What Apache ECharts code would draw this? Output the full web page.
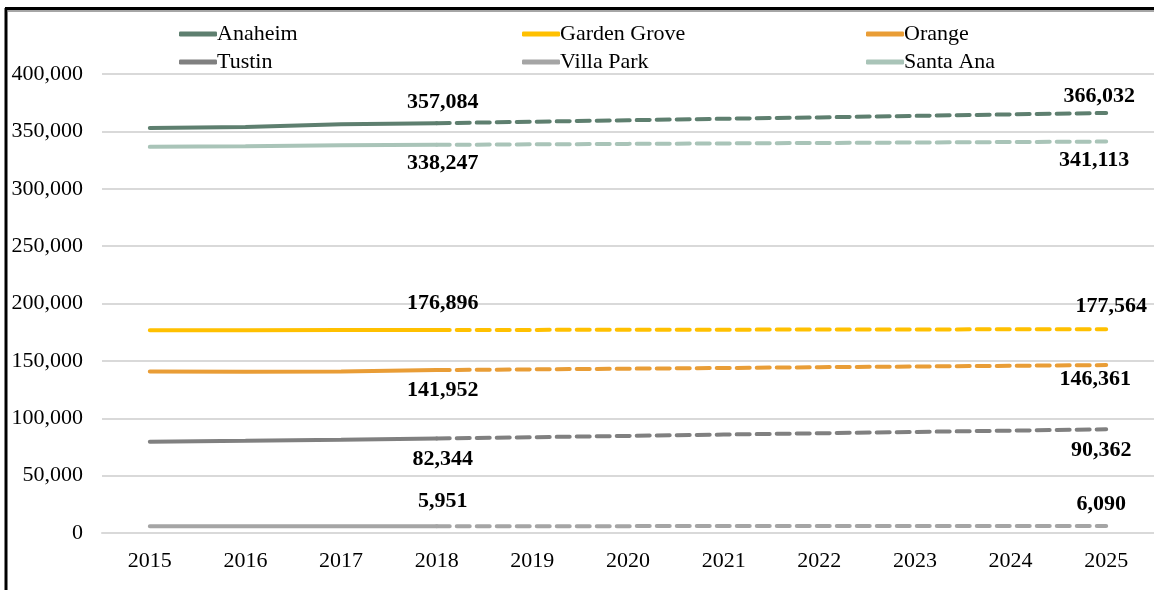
<!DOCTYPE html>
<html>
<head>
<meta charset="utf-8">
<script src="https://cdn.jsdelivr.net/npm/echarts@6/dist/echarts.min.js"></script>
<style>
html, body { margin: 0; padding: 0; background: #fff; }
#chart { width: 1154px; height: 590px; }
</style>
</head>
<body>
<div id="chart"></div>
<script>
// years on the x axis
var years = ['2015', '2016', '2017', '2018', '2019', '2020', '2021', '2022', '2023', '2024', '2025'];
var cities = ['Anaheim', 'Garden Grove', 'Orange', 'Tustin', 'Villa Park', 'Santa Ana'];

// estimates 2015-2018 (solid)
var anaheimEst = [353000, 353800, 356300, 357084];
var gardenGroveEst = [176600, 176700, 176800, 176896];
var orangeEst = [140700, 140600, 140800, 141952];
var tustinEst = [79500, 80300, 81300, 82344];
var villaParkEst = [5800, 5850, 5900, 5951];
var santaAnaEst = [336500, 337000, 337800, 338247];

// forecast 2018-2025 (dashed)
var anaheimFc = [357084, 358400, 359700, 361000, 362200, 363500, 364800, 366032];
var gardenGroveFc = [176896, 177000, 177100, 177200, 177300, 177400, 177500, 177564];
var orangeFc = [141952, 142600, 143200, 143800, 144500, 145100, 145700, 146361];
var tustinFc = [82344, 83500, 84600, 85800, 86900, 88100, 89200, 90362];
var villaParkFc = [5951, 5970, 5990, 6010, 6030, 6050, 6070, 6090];
var santaAnaFc = [338247, 338700, 339100, 339500, 339900, 340300, 340700, 341113];

var estData = [anaheimEst, gardenGroveEst, orangeEst, tustinEst, villaParkEst, santaAnaEst];
var fcData = [anaheimFc, gardenGroveFc, orangeFc, tustinFc, villaParkFc, santaAnaFc];

var colors = ['#5E7F6F', '#FFC000', '#E99D36', '#808080', '#A5A5A5', '#A9C4B8'];
// label placement: [pos 2018, dist 2018, offset 2018, pos 2025, dist 2025, offset 2025]
var labelCfg = [
    ['top', 10, [6, 0], 'top', 6, [-7, 0]],
    ['top', 16, [6, 0], 'top', 12, [5, 0]],
    ['bottom', 9, [6, 0], 'bottom', 3, [-11, 0]],
    ['bottom', 10, [6, 0], 'bottom', 10, [-5, 0]],
    ['top', 14, [6, 0], 'top', 11, [-5, 0]],
    ['bottom', 7, [6, 0], 'bottom', 8, [-12, 0]]
];

var font = 'Liberation Serif';

function fmt(v) {
    return v.toString().replace(/\B(?=(\d{3})+(?!\d))/g, ',');
}

var series = [];
for (var i = 0; i < cities.length; i++) {
    var solid = estData[i].slice();
    while (solid.length < years.length) solid.push(null);
    var dashed = [null, null, null].concat(fcData[i]);
    var cfg = labelCfg[i];
    series.push({
        name: cities[i],
        type: 'line',
        data: solid,
        symbol: 'circle',
        symbolSize: 0,
        showSymbol: true,
        z: 3,
        lineStyle: { color: colors[i], width: 4, cap: 'round' },
        itemStyle: { color: colors[i] },
        label: {
            show: true,
            position: cfg[0],
            distance: cfg[1],
            offset: cfg[2],
            fontFamily: font,
            fontSize: 22,
            fontWeight: 'bold',
            color: '#000',
            formatter: function (p) { return p.dataIndex == 3 ? fmt(p.value) : ''; }
        }
    });
    series.push({
        name: cities[i] + ' Forecast',
        type: 'line',
        data: dashed,
        symbol: 'circle',
        symbolSize: 0,
        showSymbol: true,
        z: 2,
        lineStyle: { color: colors[i], width: 4, type: [13, 7], cap: 'round' },
        itemStyle: { color: colors[i] },
        label: {
            show: true,
            position: cfg[3],
            distance: cfg[4],
            offset: cfg[5],
            fontFamily: font,
            fontSize: 22,
            fontWeight: 'bold',
            color: '#000',
            formatter: function (p) { return p.dataIndex == 10 ? fmt(p.value) : ''; }
        }
    });
}

function legendCol(names, left) {
    return {
        data: names,
        orient: 'vertical',
        left: left,
        top: 18,
        itemWidth: 38,
        itemHeight: 5,
        itemGap: 6,
        icon: 'roundRect',
        textStyle: { fontFamily: font, fontSize: 22, color: '#000', padding: [0, 0, 0, -5] },
        selectedMode: false
    };
}

var option = {
    animation: false,
    color: colors,
    legend: [
        legendCol(['Anaheim', 'Tustin'], 174),
        legendCol(['Garden Grove', 'Villa Park'], 517),
        legendCol(['Orange', 'Santa Ana'], 861)
    ],
    grid: { left: 102, right: 0, top: 74, bottom: 57 },
    xAxis: {
        type: 'category',
        data: years,
        boundaryGap: true,
        axisLine: { lineStyle: { color: '#D9D9D9', width: 2 } },
        axisTick: { show: false },
        axisLabel: { fontFamily: font, fontSize: 22, color: '#000', margin: 17 }
    },
    yAxis: {
        type: 'value',
        min: 0,
        max: 400000,
        interval: 50000,
        axisLine: { show: false },
        axisTick: { show: false },
        splitLine: { lineStyle: { color: '#D9D9D9', width: 2 } },
        axisLabel: {
            fontFamily: font, fontSize: 22, color: '#000', margin: 19,
            formatter: function (v) { return fmt(v); }
        }
    },
    series: series,
    graphic: [
        { type: 'line', shape: { x1: 6, y1: 8, x2: 6, y2: 590 }, style: { stroke: '#000', lineWidth: 3 } },
        { type: 'line', shape: { x1: 5, y1: 8.5, x2: 1154, y2: 8.5 }, style: { stroke: '#000', lineWidth: 3 } },
        { type: 'line', shape: { x1: 8, y1: 11, x2: 1154, y2: 11 }, style: { stroke: '#A6A6A6', lineWidth: 2 } }
    ]
};

var chart = echarts.init(document.getElementById('chart'));
chart.setOption(option);
</script>
</body>
</html>
